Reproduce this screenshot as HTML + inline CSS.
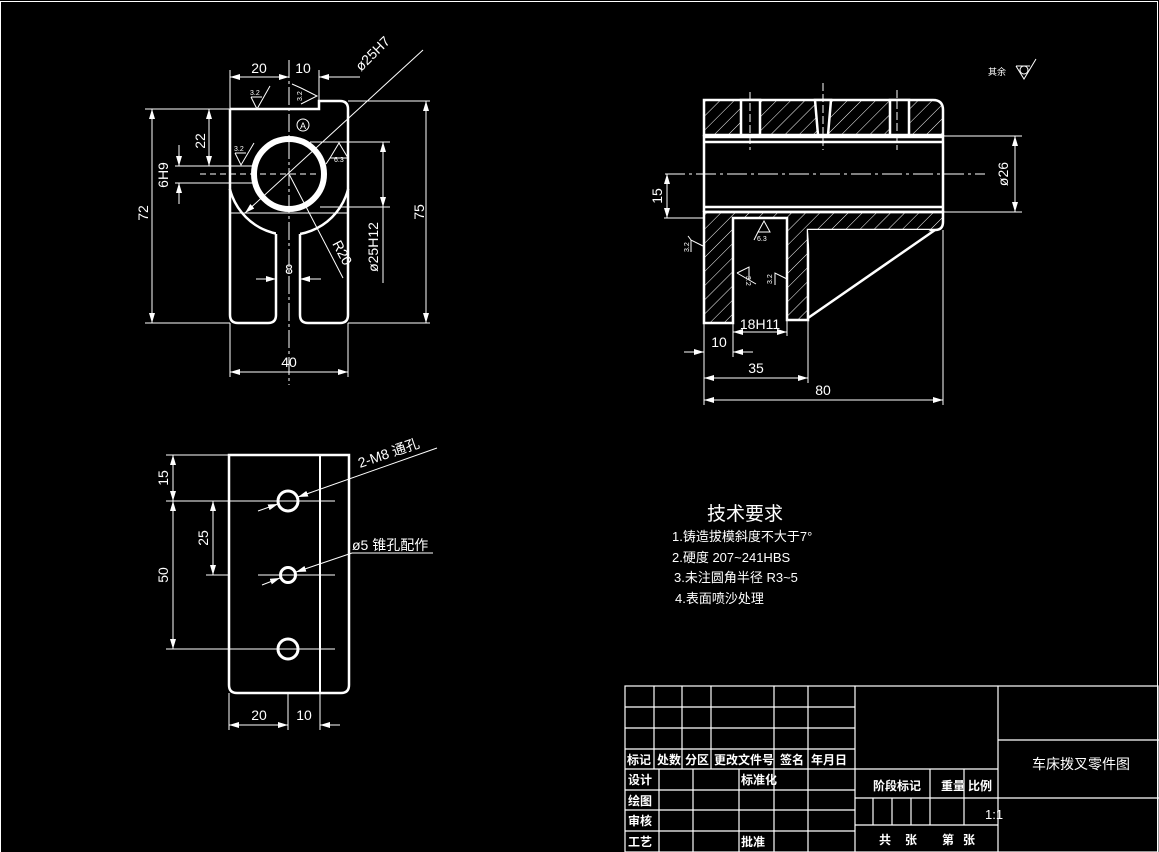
<!DOCTYPE html>
<html><head><meta charset="utf-8"><style>
html,body{margin:0;padding:0;background:#000;}
svg{display:block}
text{font-family:"Liberation Sans","Noto Sans CJK SC",sans-serif;fill:#fff}
</style></head><body>
<svg width="1159" height="852" viewBox="0 0 1159 852" xmlns="http://www.w3.org/2000/svg">
<defs>
<pattern id="h" patternUnits="userSpaceOnUse" width="10" height="10" patternTransform="rotate(45)">
<line x1="0" y1="0" x2="0" y2="10" stroke="#fff" stroke-width="1"/>
</pattern>
<marker id="a" viewBox="0 0 10 6" refX="10" refY="3" markerWidth="10" markerHeight="6" orient="auto-start-reverse" markerUnits="userSpaceOnUse"><path d="M0,0 L10,3 L0,6z" fill="#fff"/></marker>
</defs>
<rect x="0.5" y="1.5" width="1157" height="852" fill="none" stroke="#fff" stroke-width="1"/>

<!-- ===== TOP LEFT VIEW ===== -->
<g stroke="#fff" fill="none">
<path d="M230,109 L319,109 L319,101 L340,101 Q348,101 348,109 L348,315 Q348,323 340,323 L308,323 Q300,323 300,315 L300,234" stroke-width="2.5"/>
<path d="M276,234 L276,315 Q276,323 268,323 L238,323 Q230,323 230,315 L230,109" stroke-width="2.5"/>
<path d="M230,189.5 A61,61 0 0 1 276,233.6 M300,234 A61,61 0 0 1 348,189.5" stroke="#000" stroke-width="0"/>
<path d="M230,189.5 A61,61 0 0 1 276,233.6" stroke-width="0"/>
<path d="M230,189.5 C236,215 255,233 276,233.6" stroke-width="0"/>
<path d="M230,189.5 A61,61 0 0 0 276,233.6" stroke-width="0"/>
<circle cx="289" cy="174" r="61" stroke-width="2.5" stroke-dasharray="0,0" clip-path="url(#cl)"/>
<clipPath id="cl"><path d="M220,189 L276,189 L276,250 L220,250 Z M300,189 L360,189 L360,250 L300,250 Z"/></clipPath>
<circle cx="289" cy="174" r="35" stroke-width="6"/>
<g stroke-width="1">
<line x1="230" y1="213" x2="348" y2="213"/>
<line x1="289" y1="60" x2="289" y2="385" stroke-dasharray="18,3,3,3"/>
<line x1="200" y1="174" x2="320" y2="174" stroke-dasharray="6,4"/>
<line x1="145" y1="109" x2="230" y2="109"/><line x1="145" y1="323" x2="230" y2="323"/>
<line x1="152" y1="109" x2="152" y2="323" marker-start="url(#a)" marker-end="url(#a)"/>
<line x1="348" y1="101" x2="430" y2="101"/><line x1="348" y1="323" x2="430" y2="323"/>
<line x1="426" y1="101" x2="426" y2="323" marker-start="url(#a)" marker-end="url(#a)"/>
<line x1="209" y1="109" x2="209" y2="166" marker-start="url(#a)" marker-end="url(#a)"/>
<line x1="175" y1="166" x2="255" y2="166"/><line x1="175" y1="183" x2="255" y2="183"/>
<line x1="179" y1="145" x2="179" y2="166" marker-end="url(#a)"/>
<line x1="179" y1="204" x2="179" y2="183" marker-end="url(#a)"/>
<line x1="310" y1="142" x2="390" y2="142"/><line x1="320" y1="207" x2="390" y2="207"/>
<line x1="383" y1="142" x2="383" y2="283" marker-start="url(#a)"/>
<line x1="383" y1="207" x2="383" y2="190" marker-start="url(#a)"/>
<line x1="230" y1="323" x2="230" y2="377"/><line x1="348" y1="323" x2="348" y2="377"/>
<line x1="230" y1="372" x2="348" y2="372" marker-start="url(#a)" marker-end="url(#a)"/>
<line x1="230" y1="70" x2="230" y2="109"/><line x1="319" y1="70" x2="319" y2="101"/>
<line x1="230" y1="77" x2="289" y2="77" marker-start="url(#a)" marker-end="url(#a)"/>
<line x1="360" y1="77" x2="319" y2="77" marker-end="url(#a)"/>
<line x1="423" y1="50" x2="245" y2="213" marker-end="url(#a)"/>
<line x1="289" y1="174" x2="343" y2="278"/>
<line x1="256" y1="279" x2="276" y2="279" marker-end="url(#a)"/>
<line x1="321" y1="279" x2="300" y2="279" marker-end="url(#a)"/>
<path d="M251,97 L257,109 L270,86 M251,97 L262,97"/>
<path d="M301,88 L317,96 L301,104 M301,88 L292,84"/>
<path d="M235,153 L241,165 L254,143 M235,153 L246,153"/>
<path d="M330,158 L339,143 L348,158 Z M330,158 L326,164"/>
<circle cx="303" cy="125" r="6"/>
</g>
</g>
<g font-size="14">
<text x="259" y="73" text-anchor="middle">20</text>
<text x="303" y="73" text-anchor="middle">10</text>
<text x="289" y="367" text-anchor="middle">40</text>
<text transform="translate(148,213) rotate(-90)" text-anchor="middle">72</text>
<text transform="translate(424,212) rotate(-90)" text-anchor="middle">75</text>
<text transform="translate(205,141) rotate(-90)" text-anchor="middle">22</text>
<text transform="translate(168,175) rotate(-90)" text-anchor="middle">6H9</text>
<text transform="translate(378,247) rotate(-90)" text-anchor="middle">ø25H12</text>
<text transform="translate(376,57) rotate(-45)" text-anchor="middle">ø25H7</text>
<text transform="translate(338,255) rotate(62)" text-anchor="middle">R20</text>
<text x="289" y="274" text-anchor="middle">8</text>
</g>
<g font-size="7"><text x="250" y="95">3.2</text><text x="234" y="151">3.2</text><text x="334" y="162">6.3</text>
<text transform="translate(302,101) rotate(-90)">3.2</text><text x="300" y="129" font-size="9">A</text></g>

<!-- ===== TOP RIGHT VIEW ===== -->
<g stroke="#fff">
<path d="M704,100 L933,100 Q943,100 943,110 L943,135 L704,135 Z" fill="url(#h)" stroke-width="2.5"/>
<rect x="741" y="100" width="19" height="35" fill="#000" stroke-width="2.5"/>
<path d="M815,100 L831,100 L828,135 L818,135 Z" fill="#000" stroke-width="2.5"/>
<rect x="890" y="100" width="19" height="35" fill="#000" stroke-width="2.5"/>
<path d="M704,212 L943,212 L943,222 Q943,230 935,230 L808,230 L808,320 L787,320 L787,218 L733,218 L733,323 L704,323 Z" fill="url(#h)" stroke-width="2.5"/>
<path d="M808,230 L930,230 L814,318" fill="#000" stroke="none"/>
<path d="M935,230 L808,318" fill="none" stroke-width="2.5"/>
<g fill="none" stroke-width="2.5">
<line x1="704" y1="137" x2="943" y2="137"/><line x1="704" y1="142" x2="943" y2="142"/>
<line x1="704" y1="207" x2="943" y2="207"/><line x1="704" y1="212" x2="943" y2="212"/>
<line x1="704" y1="135" x2="704" y2="212"/><line x1="943" y1="135" x2="943" y2="212"/>
</g>
<g fill="none" stroke-width="1">
<line x1="750" y1="92" x2="750" y2="150" stroke-dasharray="8,3"/>
<line x1="823" y1="83" x2="823" y2="150" stroke-dasharray="8,3"/>
<line x1="897" y1="90" x2="897" y2="150" stroke-dasharray="8,3"/>
<line x1="665" y1="174" x2="985" y2="174" stroke-dasharray="20,4,3,4"/>
<line x1="943" y1="136" x2="1022" y2="136"/><line x1="943" y1="212" x2="1022" y2="212"/>
<line x1="1015" y1="136" x2="1015" y2="212" marker-start="url(#a)" marker-end="url(#a)"/>
<line x1="664" y1="218" x2="704" y2="218"/>
<line x1="667" y1="174" x2="667" y2="218" marker-start="url(#a)" marker-end="url(#a)"/>
<line x1="733" y1="323" x2="733" y2="357"/><line x1="787" y1="320" x2="787" y2="336"/>
<line x1="733" y1="332" x2="787" y2="332" marker-start="url(#a)" marker-end="url(#a)"/>
<line x1="704" y1="323" x2="704" y2="405"/><line x1="808" y1="320" x2="808" y2="383"/><line x1="943" y1="230" x2="943" y2="405"/>
<line x1="684" y1="352" x2="704" y2="352" marker-end="url(#a)"/>
<line x1="753" y1="352" x2="733" y2="352" marker-end="url(#a)"/>
<line x1="704" y1="378" x2="808" y2="378" marker-start="url(#a)" marker-end="url(#a)"/>
<line x1="704" y1="400" x2="943" y2="400" marker-start="url(#a)" marker-end="url(#a)"/>
<path d="M703,246 L691,240 L691,252 M691,240 L688,236"/>
<path d="M737,273 L749,267 L749,279 M737,273 L756,284"/>
<path d="M787,279 L775,273 L775,285"/>
<path d="M758,232 L764,221 L770,232 Z M758,232 L754,240"/>
</g>
</g>
<g font-size="14">
<text transform="translate(1008,174) rotate(-90)" text-anchor="middle">ø26</text>
<text transform="translate(662,196) rotate(-90)" text-anchor="middle">15</text>
<text x="719" y="347" text-anchor="middle">10</text>
<text x="760" y="329" text-anchor="middle">18H11</text>
<text x="756" y="373" text-anchor="middle">35</text>
<text x="823" y="395" text-anchor="middle">80</text>
</g>
<g font-size="7"><text x="757" y="241">6.3</text>
<text transform="translate(689,252) rotate(-90)">3.2</text>
<text transform="translate(746,276) rotate(90)">3.2</text>
<text transform="translate(772,284) rotate(-90)">3.2</text></g>
<text x="988" y="75" font-size="9">其余</text>
<g stroke="#fff" fill="none" stroke-width="1"><path d="M1016,66 L1024,79 L1036,59 M1016,66 L1030,66"/><circle cx="1024" cy="70" r="4"/></g>

<!-- ===== BOTTOM LEFT VIEW ===== -->
<g stroke="#fff" fill="none">
<path d="M229,455 L349,455 L349,685 Q349,693 341,693 L237,693 Q229,693 229,685 Z" stroke-width="2.5"/>
<line x1="320" y1="455" x2="320" y2="693" stroke-width="2"/>
<circle cx="288" cy="501" r="10" stroke-width="3"/>
<circle cx="288" cy="575" r="7.5" stroke-width="3"/>
<circle cx="288" cy="649" r="10" stroke-width="3"/>
<g stroke-width="1">
<line x1="166" y1="501" x2="335" y2="501"/><line x1="206" y1="575" x2="229" y2="575"/><line x1="258" y1="575" x2="335" y2="575"/><line x1="166" y1="649" x2="335" y2="649"/>
<line x1="166" y1="455" x2="229" y2="455"/>
<line x1="173" y1="455" x2="173" y2="501" marker-start="url(#a)" marker-end="url(#a)"/>
<line x1="173" y1="501" x2="173" y2="649" marker-start="url(#a)" marker-end="url(#a)"/>
<line x1="213" y1="501" x2="213" y2="575" marker-start="url(#a)" marker-end="url(#a)"/>
<line x1="229" y1="693" x2="229" y2="730"/><line x1="288" y1="693" x2="288" y2="730"/><line x1="320" y1="693" x2="320" y2="730"/>
<line x1="229" y1="725" x2="288" y2="725" marker-start="url(#a)" marker-end="url(#a)"/>
<line x1="340" y1="725" x2="320" y2="725" marker-end="url(#a)"/>
<line x1="437" y1="448" x2="298" y2="497" marker-end="url(#a)"/>
<line x1="258" y1="511" x2="278" y2="504" marker-end="url(#a)"/>
<line x1="433" y1="553" x2="352" y2="553"/>
<line x1="352" y1="553" x2="296" y2="572" marker-end="url(#a)"/>
<line x1="262" y1="585" x2="280" y2="578" marker-end="url(#a)"/>
</g>
</g>
<g font-size="14">
<text transform="translate(168,478) rotate(-90)" text-anchor="middle">15</text>
<text transform="translate(168,575) rotate(-90)" text-anchor="middle">50</text>
<text transform="translate(208,538) rotate(-90)" text-anchor="middle">25</text>
<text x="259" y="720" text-anchor="middle">20</text>
<text x="304" y="720" text-anchor="middle">10</text>
<text transform="translate(360,468) rotate(-19)">2-M8 通孔</text>
<text x="352" y="550">ø5 锥孔配作</text>
</g>

<!-- ===== TECH REQUIREMENTS ===== -->
<text x="707" y="520" font-size="19">技术要求</text>
<g font-size="13">
<text x="672" y="541">1.铸造拔模斜度不大于7°</text>
<text x="672" y="562">2.硬度 207~241HBS</text>
<text x="674" y="582">3.未注圆角半径 R3~5</text>
<text x="675" y="603">4.表面喷沙处理</text>
</g>

<!-- ===== TITLE BLOCK ===== -->
<g stroke="#fff" stroke-width="1.2" fill="none">
<rect x="625" y="686" width="533" height="166"/>
<line x1="625" y1="707" x2="855" y2="707"/><line x1="625" y1="728" x2="855" y2="728"/><line x1="625" y1="749" x2="855" y2="749"/>
<line x1="625" y1="769" x2="998" y2="769"/><line x1="625" y1="790" x2="855" y2="790"/><line x1="625" y1="810" x2="855" y2="810"/><line x1="625" y1="831" x2="855" y2="831"/>
<line x1="654" y1="686" x2="654" y2="769"/><line x1="682" y1="686" x2="682" y2="769"/><line x1="711" y1="686" x2="711" y2="769"/>
<line x1="774" y1="686" x2="774" y2="852"/><line x1="808" y1="686" x2="808" y2="852"/><line x1="855" y1="686" x2="855" y2="852"/>
<line x1="659" y1="769" x2="659" y2="852"/><line x1="693" y1="769" x2="693" y2="852"/><line x1="739" y1="769" x2="739" y2="852"/>
<line x1="998" y1="686" x2="998" y2="852"/>
<line x1="855" y1="798" x2="998" y2="798"/><line x1="855" y1="825" x2="998" y2="825"/>
<line x1="930" y1="769" x2="930" y2="825"/><line x1="964" y1="769" x2="964" y2="825"/>
<line x1="873" y1="798" x2="873" y2="825"/><line x1="892" y1="798" x2="892" y2="825"/><line x1="911" y1="798" x2="911" y2="825"/>
<line x1="998" y1="740" x2="1159" y2="740"/><line x1="998" y1="798" x2="1159" y2="798"/>
</g>
<g font-size="12" font-weight="bold">
<text x="627" y="764">标记</text><text x="657" y="764">处数</text><text x="685" y="764">分区</text><text x="714" y="764">更改文件号</text><text x="780" y="764">签名</text><text x="811" y="764">年月日</text>
<text x="628" y="784">设计</text><text x="628" y="805">绘图</text><text x="628" y="825">审核</text><text x="628" y="846">工艺</text>
<text x="741" y="784">标准化</text><text x="741" y="846">批准</text>
<text x="873" y="790">阶段标记</text><text x="941" y="790">重量</text><text x="968" y="790">比例</text>
<text x="879" y="844">共</text><text x="905" y="844">张</text><text x="942" y="844">第</text><text x="963" y="844">张</text>
</g>
<text x="985" y="819" font-size="13" font-family="Liberation Serif,serif">1:1</text>
<text x="1032" y="769" font-size="14">车床拨叉零件图</text>
</svg>
</body></html>
